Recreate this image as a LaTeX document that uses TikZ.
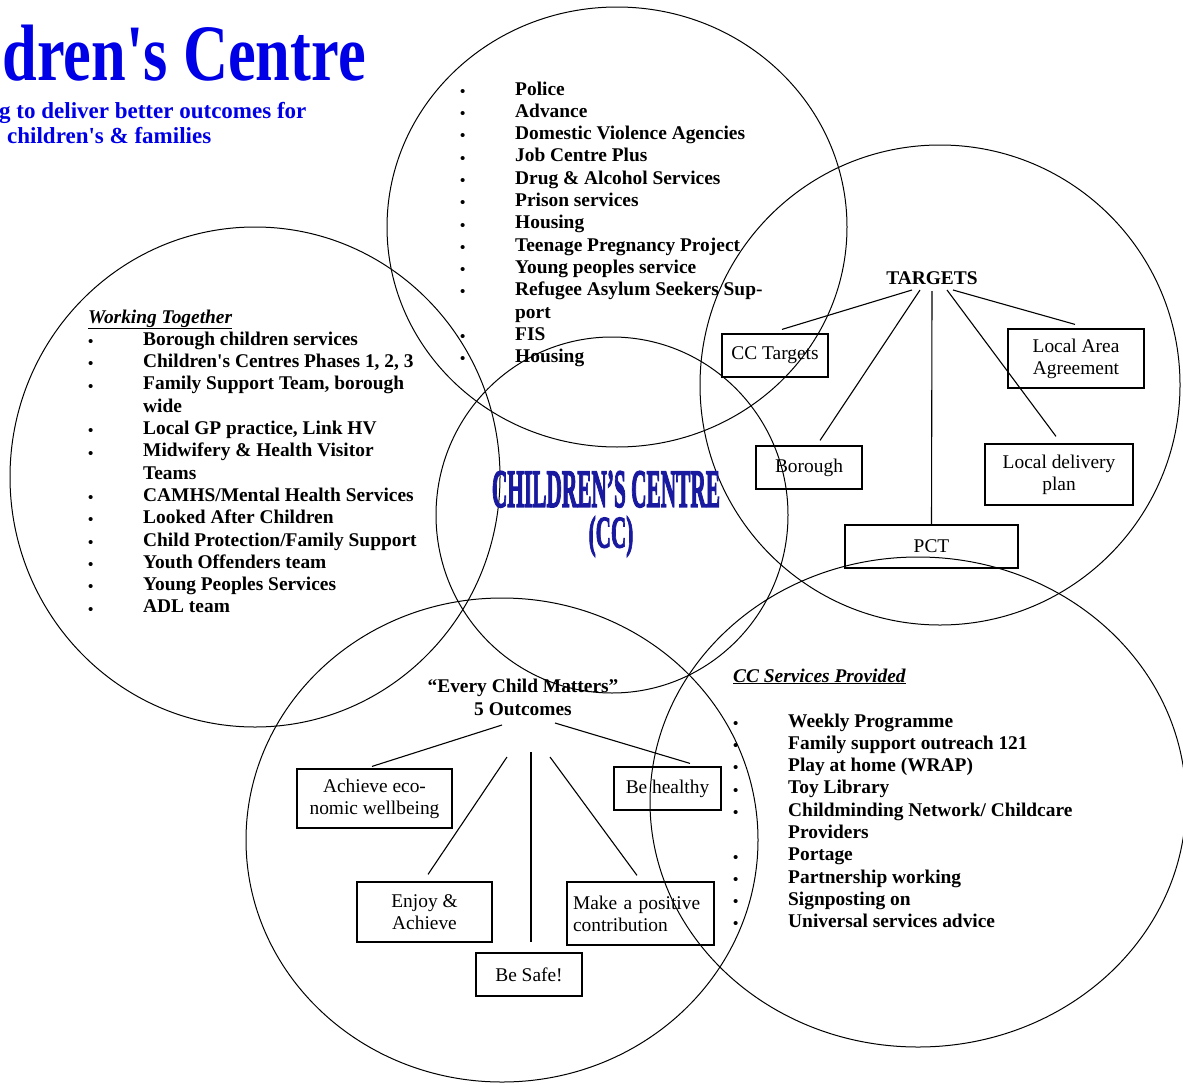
\documentclass[tikz,border=0pt]{standalone}
\usepackage{fontspec}
\setmainfont{Liberation Serif}
\newfontfamily\ccfont[UprightFont={* Bold}, FakeBold=3]{Liberation Serif}
\usetikzlibrary{calc,shapes.geometric}
\definecolor{ttlblue}{RGB}{0,0,230}
\definecolor{ccblue}{RGB}{25,25,160}
\newlength\bw
\setlength\bw{55pt}
\newcommand{\bi}{\makebox[\bw][l]{\raisebox{-1.2pt}{\fontsize{15}{15}\selectfont\textbullet}}}
\newcommand{\nb}{\hspace*{\bw}}
\newcommand{\apos}{\textquotesingle}
\newcommand{\boxfont}{\fontsize{19.4}{22}\selectfont}
\newcommand{\listfont}{\fontsize{19.4}{22.3}\selectfont\bfseries}
\begin{document}
\begin{tikzpicture}[x=1pt,y=-1pt,
  circ/.style={draw, ellipse, line width=1pt, inner sep=0pt},
  tbox/.style={draw, line width=1.2pt, inner sep=2pt, align=center, font=\boxfont},
  conn/.style={line width=1.1pt},
  lst/.style={inner sep=0pt, anchor=base west, font=\listfont},
  plain/.style={inner sep=0pt}]
\useasboundingbox (0,0) rectangle (1183,1084);
\fill[white] (0,0) rectangle (1183,1084);
\clip (0,0) rectangle (1183,1084);

% circles
\node[circ, minimum width=460pt, minimum height=440pt] (ctop) at (617,227) {};
\node[circ, minimum width=490pt, minimum height=500pt] (cleft) at (255,477) {};
\node[circ, minimum width=480pt, minimum height=480pt] (cright) at (940,385) {};
\node[circ, minimum width=352pt, minimum height=356pt] (ccen) at (612,515) {};
\node[circ, minimum width=512pt, minimum height=484pt] (cecm) at (502,840) {};
\node[circ, minimum width=536pt, minimum height=490pt] (csvc) at (918,802) {};

% title
\node[plain, anchor=base east, text=ttlblue, font=\fontsize{80}{80}\selectfont\bfseries] (title) at (366,80) {\scalebox{0.78}[1]{dren\apos s Centre}};
\node[plain, anchor=base west, text=ttlblue, font=\fontsize{23}{25}\selectfont\bfseries] (sub1) at (-1,118) {g to deliver better outcomes for};
\node[plain, anchor=base west, text=ttlblue, font=\fontsize{23}{25}\selectfont\bfseries] (sub2) at (7,143) {children\apos s \& families};

% centre
\node[plain, text=ccblue, align=center, font=\fontsize{54}{40.5}\selectfont\ccfont] (cc) at (606,514) {\scalebox{0.395}[1]{CHILDREN’S CENTRE}\\\hspace*{10pt}\scalebox{0.47}[1]{\fontsize{45}{40.5}\selectfont (CC)}};

% top list
\node[lst] (toplist) at (460,95) {\begin{tabular}[t]{@{}l@{}}
\bi Police\\
\bi Advance\\
\bi Domestic Violence Agencies\\
\bi Job Centre Plus\\
\bi Drug \& Alcohol Services\\
\bi Prison services\\
\bi Housing\\
\bi Teenage Pregnancy Project\\
\bi Young peoples service\\
\bi Refugee Asylum Seekers Sup-\\
\nb port\\
\bi FIS\\
\bi Housing
\end{tabular}};

% left list
\node[lst] (leftlist) at (88,323) {\begin{tabular}[t]{@{}l@{}}
\underline{\textit{Working Together}}\\
\bi Borough children services\\
\bi Children\apos s Centres Phases 1, 2, 3\\
\bi Family Support Team, borough\\
\nb wide\\
\bi Local GP practice, Link HV\\
\bi Midwifery \& Health Visitor\\
\nb Teams\\
\bi CAMHS/Mental Health Services\\
\bi Looked After Children\\
\bi Child Protection/Family Support\\
\bi Youth Offenders team\\
\bi Young Peoples Services\\
\bi ADL team
\end{tabular}};

% services list
\node[lst] (svh) at (733,682) {\underline{\textit{CC Services Provided}}};
\node[lst] (svlist) at (733,727) {\begin{tabular}[t]{@{}l@{}}
\bi Weekly Programme\\
\bi Family support outreach 121\\
\bi Play at home (WRAP)\\
\bi Toy Library\\
\bi Childminding Network/ Childcare\\
\nb Providers\\
\bi Portage\\
\bi Partnership working\\
\bi Signposting on\\
\bi Universal services advice
\end{tabular}};

% targets
\node[plain, anchor=base, font=\fontsize{19.4}{22}\selectfont\bfseries] (tg) at (932,284) {TARGETS};
\node[tbox, minimum width=106, minimum height=43] (cct) at (775,355.5) {CC Targets};
\node[tbox, minimum width=136, minimum height=59] (laa) at (1076,358.5) {Local Area\\Agreement};
\node[tbox, minimum width=106, minimum height=43] (bor) at (809,467.5) {Borough};
\node[tbox, minimum width=148, minimum height=61] (ldp) at (1059,474.5) {Local delivery\\plan};
\node[tbox, minimum width=173, minimum height=43] (pct) at (931.5,546.5) {PCT};
\draw[conn] ($(tg.base)+(-20,6)$) -- ($(cct.north)+(7,-4)$);
\draw[conn] ($(tg.base)+(-12,6)$) -- ($(bor.north)+(11,-5)$);
\draw[conn] ($(tg.base)+(0,7)$) -- (pct.north);
\draw[conn] ($(tg.base)+(15,6)$) -- ($(ldp.north)+(-3,-7)$);
\draw[conn] ($(tg.base)+(21,6)$) -- ($(laa.north)+(-1,-4)$);

% every child matters
\node[plain, anchor=base, font=\fontsize{19.4}{23}\selectfont\bfseries] (ecm) at (523,692) {\begin{tabular}[t]{@{}c@{}}“Every Child Matters”\\5 Outcomes\end{tabular}};
\node[tbox, minimum width=155, minimum height=59] (aew) at (374.5,798.5) {Achieve eco-\\nomic wellbeing};
\node[tbox, minimum width=107, minimum height=43] (bh) at (667.5,788.5) {Be healthy};
\node[tbox, minimum width=135, minimum height=60] (ea) at (424.5,912) {Enjoy \&\\Achieve};
\node[tbox, minimum width=147, minimum height=63, text width=135, align=left] (mpc) at (640.5,913.5) {Make a positive\\contribution};
\node[tbox, minimum width=106, minimum height=43] (bs) at (529,974.5) {Be Safe!};
\draw[conn] ($(ecm.base)+(-21,33)$) -- ($(aew.north)+(-2.5,-2)$);
\draw[conn] ($(ecm.base)+(-16,65)$) -- ($(ea.north)+(3.5,-7)$);
\draw[conn] ($(ecm.base)+(8,60)$) -- ($(bs.north)+(2,-10)$);
\draw[conn] ($(ecm.base)+(27,65)$) -- ($(mpc.north)+(-3.5,-6)$);
\draw[conn] ($(ecm.base)+(32,31)$) -- ($(bh.north)+(22.5,-3)$);
\end{tikzpicture}
\end{document}
